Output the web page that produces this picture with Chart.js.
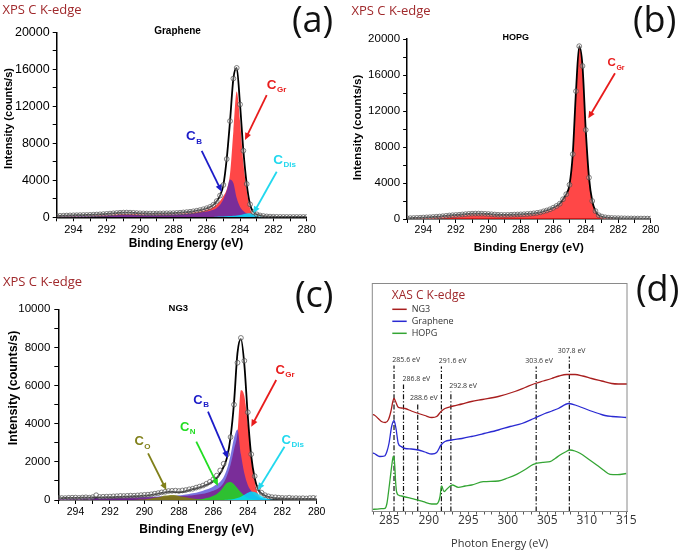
<!DOCTYPE html>
<html>
<head>
<meta charset="utf-8">
<script src="https://cdn.jsdelivr.net/npm/chart.js@4.4.0/dist/chart.umd.min.js"></script>
<style>
  body { margin: 0; background: #fff; }
  #page { position: relative; width: 685px; height: 554px; overflow: hidden; }
  canvas { position: absolute; }
  .edge { position: absolute; font: 13px "Open Sans", sans-serif; line-height: 1; color: #a0292c; white-space: nowrap; }
  .tag { position: absolute; font: 36px "Open Sans", sans-serif; line-height: 1; color: #111; white-space: nowrap; }
</style>
</head>
<body>
<div id="page">
  <canvas id="pa" width="345" height="260" style="left:0;top:0"></canvas>
  <canvas id="pb" width="340" height="260" style="left:345px;top:0"></canvas>
  <canvas id="pc" width="345" height="289" style="left:0;top:265px"></canvas>
  <canvas id="pd" width="340" height="289" style="left:345px;top:265px"></canvas>
  <div class="edge" style="left:2.5px;top:2.5px">XPS C K-edge</div>
  <div class="edge" style="left:351.5px;top:3.5px">XPS C K-edge</div>
  <div class="edge" style="left:3px;top:275px">XPS C K-edge</div>
  <div class="tag" style="left:292px;top:0.5px">(a)</div>
  <div class="tag" style="left:633px;top:1px">(b)</div>
  <div class="tag" style="left:295px;top:276px">(c)</div>
  <div class="tag" style="left:636px;top:270px">(d)</div>
</div>
<script>
// XPS binding energy grid (eV), high to low, shared by the three fits
const xpsE = [
  295.0, 294.8, 294.6, 294.4, 294.2, 294.0, 293.8, 293.6, 293.4, 293.2,
  293.0, 292.8, 292.6, 292.4, 292.2, 292.0, 291.8, 291.6, 291.4, 291.2,
  291.0, 290.8, 290.6, 290.4, 290.2, 290.0, 289.8, 289.6, 289.4, 289.2,
  289.0, 288.8, 288.6, 288.4, 288.2, 288.0, 287.8, 287.6, 287.4, 287.2,
  287.0, 286.8, 286.6, 286.4, 286.2, 286.0, 285.8, 285.6, 285.4, 285.2,
  285.0, 284.8, 284.6, 284.4, 284.2, 284.0, 283.8, 283.6, 283.4, 283.2,
  283.0, 282.8, 282.6, 282.4, 282.2, 282.0, 281.8, 281.6, 281.4, 281.2,
  281.0, 280.8, 280.6, 280.4, 280.2, 280.0
];

// (a) Graphene
const grapheneFit = [
  145, 160, 175, 190, 205, 215, 225, 235, 245, 252,
  262, 280, 300, 320, 345, 370, 400, 430, 460, 490,
  505, 510, 500, 480, 455, 435, 420, 412, 408, 408,
  410, 418, 425, 432, 440, 450, 470, 495, 525, 560,
  600, 650, 710, 780, 870, 980, 1120, 1350, 1750, 2350,
  3500, 6300, 10400, 15000, 16150, 12200, 7200, 3600, 1400, 560,
  320, 200, 135, 95, 72, 58, 48, 42, 40, 38,
  37, 36, 36, 36, 35, 35
];
const grapheneGr = [
  105, 115, 125, 135, 145, 150, 160, 170, 180, 190,
  200, 215, 230, 245, 260, 275, 290, 310, 330, 350,
  365, 370, 365, 355, 345, 338, 334, 332, 333, 336,
  340, 346, 354, 364, 376, 390, 406, 426, 450, 478,
  512, 552, 600, 660, 735, 830, 950, 1120, 1380, 1750,
  2300, 3000, 4700, 9300, 13600, 10400, 5900, 2900, 970, 320,
  130, 50, 15, 0, 0, 0, 0, 0, 0, 0,
  0, 0, 0, 0, 0, 0
];
const grapheneB = [
  95, 100, 105, 110, 115, 120, 125, 130, 135, 140,
  150, 160, 170, 180, 190, 200, 210, 220, 230, 240,
  250, 255, 255, 255, 255, 260, 262, 265, 268, 272,
  276, 282, 290, 300, 310, 322, 336, 352, 370, 390,
  412, 440, 470, 510, 560, 620, 700, 820, 1000, 1350,
  1950, 2900, 4100, 3700, 2100, 1150, 680, 420, 250, 140,
  80, 40, 15, 0, 0, 0, 0, 0, 0, 0,
  0, 0, 0, 0, 0, 0
];
const grapheneDis = [
  0, 0, 0, 0, 0, 0, 0, 0, 0, 0,
  0, 0, 0, 0, 0, 0, 0, 0, 0, 0,
  0, 0, 0, 0, 0, 0, 0, 0, 0, 0,
  0, 0, 0, 0, 0, 0, 0, 0, 0, 0,
  0, 0, 0, 0, 10, 20, 30, 45, 60, 75,
  90, 110, 135, 165, 205, 260, 340, 420, 430, 350,
  250, 160, 95, 55, 30, 15, 5, 0, 0, 0,
  0, 0, 0, 0, 0, 0
];

// (b) HOPG (single C_Gr component = fit)
const hopgFit = [
  80, 95, 110, 125, 140, 160, 180, 200, 225, 250,
  275, 310, 350, 390, 420, 445, 470, 505, 540, 570,
  590, 600, 600, 590, 575, 555, 525, 495, 470, 455,
  450, 455, 470, 490, 500, 515, 535, 560, 590, 630,
  680, 740, 850, 950, 1080, 1250, 1450, 1700, 2200, 2750,
  3800, 7200, 14200, 19200, 17000, 9900, 4600, 2000, 880, 420,
  270, 185, 140, 115, 100, 90, 80, 72, 66, 62,
  58, 55, 52, 50, 48, 46
];

// (c) NG3
const ng3Data = [
  110, 105, 100, 115, 120, 125, 110, 130, 140, 120,
  150, 250, 160, 170, 175, 180, 190, 200, 215, 210,
  220, 230, 225, 240, 255, 270, 280, 300, 330, 360,
  400, 430, 470, 480, 490, 470, 500, 520, 560, 590,
  650, 700, 760, 850, 950, 1080, 1280, 1550, 1900, 2400,
  3300, 5000, 7200, 8500, 7300, 4600, 2400, 1250, 620, 380,
  250, 190, 150, 140, 120, 110, 100, 120, 90, 100,
  85, 95, 80, 100, 110, 90
];
const ng3Fit = [
  100, 102, 105, 108, 110, 113, 116, 120, 124, 127,
  130, 134, 138, 142, 146, 150, 155, 160, 166, 172,
  180, 188, 196, 203, 212, 225, 245, 270, 300, 335,
  370, 405, 432, 430, 418, 412, 430, 468, 520, 570,
  610, 660, 720, 790, 880, 1000, 1160, 1400, 1750, 2250,
  3300, 5100, 7700, 8450, 7100, 4400, 2300, 1150, 560, 340,
  230, 160, 120, 100, 90, 80, 75, 70, 68, 66,
  65, 64, 63, 62, 61, 60
];
const ng3Gr = [
  70, 72, 74, 76, 78, 80, 82, 84, 86, 88,
  90, 92, 95, 98, 100, 103, 106, 110, 113, 116,
  120, 124, 128, 132, 136, 140, 145, 150, 155, 160,
  166, 172, 178, 185, 192, 200, 210, 222, 236, 255,
  275, 300, 330, 370, 420, 480, 560, 680, 900, 1300,
  1850, 2650, 3500, 5750, 5450, 4000, 2350, 1000, 300, 60,
  0, 0, 0, 0, 0, 0, 0, 0, 0, 0,
  0, 0, 0, 0, 0, 0
];
const ng3B = [
  80, 82, 84, 86, 88, 92, 95, 98, 101, 104,
  107, 110, 113, 116, 118, 120, 123, 126, 130, 133,
  136, 140, 144, 148, 152, 156, 162, 168, 175, 183,
  192, 202, 212, 222, 234, 248, 265, 290, 320, 350,
  385, 430, 490, 550, 620, 710, 820, 960, 1200, 1650,
  2350, 3250, 3700, 2400, 1400, 790, 470, 260, 160, 100,
  55, 25, 10, 0, 0, 0, 0, 0, 0, 0,
  0, 0, 0, 0, 0, 0
];
const ng3N = [
  0, 0, 0, 0, 0, 0, 0, 0, 0, 0,
  0, 0, 0, 0, 0, 0, 0, 0, 0, 0,
  0, 0, 0, 0, 0, 0, 0, 0, 0, 0,
  0, 0, 0, 0, 0, 0, 0, 0, 0, 0,
  10, 20, 50, 100, 150, 220, 320, 470, 700, 900,
  950, 830, 620, 400, 220, 110, 50, 20, 5, 0,
  0, 0, 0, 0, 0, 0, 0, 0, 0, 0,
  0, 0, 0, 0, 0, 0
];
const ng3Dis = [
  0, 0, 0, 0, 0, 0, 0, 0, 0, 0,
  0, 0, 0, 0, 0, 0, 0, 0, 0, 0,
  0, 0, 0, 0, 0, 0, 0, 0, 0, 0,
  0, 0, 0, 0, 0, 0, 0, 0, 0, 0,
  0, 0, 0, 0, 0, 0, 0, 0, 5, 10,
  20, 50, 100, 170, 270, 380, 450, 420, 320, 200,
  110, 55, 25, 10, 0, 0, 0, 0, 0, 0,
  0, 0, 0, 0, 0, 0
];
const ng3O = [
  0, 0, 0, 0, 0, 0, 0, 0, 0, 0,
  0, 0, 0, 0, 0, 0, 0, 0, 0, 0,
  0, 0, 5, 10, 20, 30, 50, 80, 115, 150,
  190, 230, 255, 262, 250, 215, 175, 140, 105, 80,
  55, 40, 25, 15, 8, 5, 0, 0, 0, 0,
  0, 0, 0, 0, 0, 0, 0, 0, 0, 0,
  0, 0, 0, 0, 0, 0, 0, 0, 0, 0,
  0, 0, 0, 0, 0, 0
];

// (d) XAS C K-edge, photon energy (eV) and offset intensity (arb. units)
const xasNg3E = [282.9, 283.1, 283.6, 284.0, 284.5, 284.9, 285.2, 285.45, 285.6, 285.8,
  286.1, 286.5, 287.0, 287.8, 288.7, 289.5, 290.4, 291.0, 291.55, 292.05,
  293.1, 294.2, 295.4, 296.8, 298.8, 300.9, 302.2, 303.45, 304.5, 305.56,
  306.5, 307.46, 308.52, 309.5, 310.63, 311.9, 313.16, 314.0, 315.1];
const xasNg3 = [97, 96.5, 93, 90, 89, 92, 100, 110, 113, 110,
  104.5, 103.5, 103, 100.5, 98, 96, 94, 95, 100, 103,
  105.5, 107.5, 110, 112, 115, 120, 124, 128, 130.5, 133,
  135.5, 137, 137, 135.5, 133, 130.5, 128, 127.5, 127.5];
const xasGrapheneE = [282.9, 283.1, 283.8, 284.4, 284.7, 284.96, 285.3, 285.6, 285.85, 286.14,
  286.5, 287.0, 287.8, 288.7, 289.5, 290.4, 291.0, 291.55, 292.05, 292.9,
  294.2, 295.4, 297.0, 298.8, 300.3, 301.8, 303.3, 304.7, 305.6, 306.4,
  307.7, 308.9, 310.2, 311.5, 312.3, 313.2, 315.0];
const xasGraphene = [58.5, 58, 55, 55.5, 60, 68, 85, 91, 83, 68,
  65, 63, 62.5, 61.5, 59.5, 57.5, 59, 66.5, 70, 71.5,
  73, 75, 78, 81.5, 85, 88, 93, 98, 100.5, 103,
  108, 105.5, 101.5, 98, 96, 95, 94];
const xasHopgE = [282.9, 283.5, 284.0, 284.46, 284.7, 284.88, 285.09, 285.25, 285.4, 285.5,
  285.6, 285.7, 285.8, 285.93, 286.2, 286.57, 287.4, 288.25, 289.3, 290.37,
  291.0, 291.25, 291.42, 291.63, 291.93, 292.27, 292.98, 293.74, 294.6, 295.43,
  296.9, 298.81, 300.0, 301.13, 302.2, 303.24, 304.5, 305.35, 306.0, 306.62,
  307.3, 307.88, 308.5, 309.15, 310.2, 311.26, 312.1, 312.95, 313.9, 315.0];
const xasHopg = [2.2, 2.4, 2.8, 3.2, 8, 18, 31.5, 42, 51, 55,
  54, 45, 30, 19.5, 16.3, 15.5, 13.8, 12.2, 9.8, 7.5,
  7.5, 10, 14.8, 25.5, 19.8, 22.2, 26.5, 24.2, 25.5, 26.5,
  29.8, 30.5, 33.5, 37.2, 42, 47.2, 49.2, 49.8, 53, 56.5,
  59.5, 61.5, 60.5, 58.2, 52.5, 46.5, 41.5, 37.2, 36.8, 38];
const xasMarkE = [285.6, 286.8, 288.6, 291.6, 292.8, 303.6, 307.8];
const xasMarkTop = [146, 127, 108, 145, 120, 145, 155];

const SANS = '"Liberation Sans", Arial, sans-serif';
const OPEN = '"Open Sans", sans-serif';
Chart.defaults.font.family = SANS;
Chart.defaults.color = '#000';

const pts = (xs, ys) => xs.map((x, i) => ({ x, y: ys[i] }));

function dots(vals) {
  return { data: pts(xpsE, vals), showLine: false, pointRadius: 2.4, pointBorderWidth: 0.8,
    pointBorderColor: 'rgba(70,70,70,0.85)', pointBackgroundColor: 'rgba(255,255,255,0.3)' };
}
function fitLine(vals) {
  return { data: pts(xpsE, vals), borderColor: '#000', borderWidth: 1.8, pointRadius: 0,
    fill: false, cubicInterpolationMode: 'monotone' };
}
function peak(vals, color) {
  return { data: pts(xpsE, vals), borderWidth: 0, borderColor: color, backgroundColor: color,
    pointRadius: 0, fill: 'origin', cubicInterpolationMode: 'monotone' };
}

// sample name, axis titles and the labelled arrows for the XPS panels
const xpsDeco = {
  id: 'xpsDeco',
  afterDraw(chart, args, o) {
    const { ctx, chartArea: a, scales: { x, y } } = chart;
    const px = p => [x.getPixelForValue(p[0]), y.getPixelForValue(p[1])];
    ctx.save();
    ctx.fillStyle = '#000';
    ctx.textBaseline = 'middle';
    ctx.textAlign = 'center';
    ctx.font = `bold ${o.sample[2]}px ${SANS}`;
    ctx.fillText(o.sample[0], x.getPixelForValue(o.sample[1]), a.top - 1);
    ctx.font = `bold ${o.xTitle[2]}px ${SANS}`;
    ctx.fillText('Binding Energy (eV)', o.xTitle[0], o.xTitle[1]);
    ctx.save();
    ctx.translate(o.yTitle[0], o.yTitle[1]);
    ctx.rotate(-Math.PI / 2);
    ctx.font = `bold ${o.yTitle[2]}px ${SANS}`;
    ctx.fillText('Intensity (counts/s)', 0, 0);
    ctx.restore();

    for (const n of o.notes) {
      const [x0, y0] = px(n.from), [x1, y1] = px(n.to);
      const ang = Math.atan2(y1 - y0, x1 - x0), hl = 7, hw = 3.2;
      const c = Math.cos(ang), s = Math.sin(ang);
      ctx.strokeStyle = ctx.fillStyle = n.color;
      ctx.lineWidth = 1.8;
      ctx.beginPath();
      ctx.moveTo(x0, y0);
      ctx.lineTo(x1 - c * hl * 0.8, y1 - s * hl * 0.8);
      ctx.stroke();
      ctx.beginPath();
      ctx.moveTo(x1, y1);
      ctx.lineTo(x1 - hl * c + hw * s, y1 - hl * s - hw * c);
      ctx.lineTo(x1 - hl * c - hw * s, y1 - hl * s + hw * c);
      ctx.closePath();
      ctx.fill();
      const [lx, ly] = px(n.at);
      ctx.textAlign = 'center';
      ctx.font = `bold ${o.cSize}px ${SANS}`;
      ctx.fillText('C', lx, ly);
      const cw = ctx.measureText('C').width;
      ctx.textAlign = 'left';
      ctx.font = `bold ${Math.round(o.cSize * 0.6)}px ${SANS}`;
      ctx.fillText(n.sub, lx + cw / 2 + 0.5, ly + o.cSize * 0.38);
    }
    ctx.restore();
  }
};

function xpsChart(id, c) {
  const axisGrid = { drawOnChartArea: false, tickLength: 4, tickColor: '#000', tickWidth: 1 };
  return new Chart(document.getElementById(id), {
    type: 'line',
    data: { datasets: c.datasets },
    options: {
      responsive: false,
      animation: false,
      events: [],
      layout: { padding: c.pad },
      plugins: { legend: { display: false }, tooltip: { enabled: false }, xpsDeco: c.deco },
      scales: {
        x: {
          type: 'linear', reverse: true, min: 280, max: 295,
          afterFit: s => { s.height = c.xH; },
          grid: axisGrid,
          border: { color: '#000', width: 1.5 },
          ticks: { stepSize: 1, autoSkip: false, maxRotation: 0, padding: c.xPad,
            font: { size: c.xFont }, color: '#000',
            callback: v => (v % 2 === 0 ? v : '') }
        },
        y: {
          min: 0, max: c.yMax,
          afterFit: s => { s.width = c.yW; },
          grid: axisGrid,
          border: { color: '#000', width: 1.5 },
          ticks: { stepSize: c.yStep, autoSkip: false, padding: c.yPad,
            font: { size: c.yFont }, color: '#000',
            callback: v => (v % c.yLabelStep === 0 ? v : '') }
        }
      }
    },
    plugins: [xpsDeco]
  });
}

const RED = 'rgba(255,30,30,0.82)';
const BLUE = 'rgba(40,30,205,0.62)';
const CYAN = 'rgba(0,222,255,0.85)';
const GREEN = 'rgba(40,205,40,0.92)';
const OLIVE = 'rgba(128,128,10,0.85)';

xpsChart('pa', {
  datasets: [dots(grapheneFit), fitLine(grapheneFit), peak(grapheneDis, CYAN),
    peak(grapheneB, BLUE), peak(grapheneGr, RED)],
  pad: { left: 0, right: 38.3, top: 32.3, bottom: 0 },
  xH: 42.7, yW: 56.7, yMax: 20000, yStep: 2000, yLabelStep: 4000,
  xFont: 11, yFont: 12.5, xPad: 2, yPad: 3,
  deco: {
    sample: ['Graphene', 287.75, 10],
    xTitle: [186, 244, 12], yTitle: [9, 118.5, 11],
    cSize: 13.5,
    notes: [
      { sub: 'Gr', color: '#e81c1c', at: [282.1, 14300], from: [282.4, 13210], to: [283.7, 8360] },
      { sub: 'B', color: '#1c1cc8', at: [286.95, 8760], from: [286.3, 7170], to: [285.1, 2770] },
      { sub: 'Dis', color: '#22d8ee', at: [281.72, 6190], from: [281.8, 4930], to: [283.2, 430] }
    ]
  }
});

xpsChart('pb', {
  datasets: [dots(hopgFit), fitLine(hopgFit), peak(hopgFit, RED)],
  pad: { left: 0, right: 34.3, top: 39, bottom: 0 },
  xH: 41, yW: 62.1, yMax: 20000, yStep: 2000, yLabelStep: 4000,
  xFont: 10.5, yFont: 11.5, xPad: 1, yPad: 3,
  deco: {
    sample: ['HOPG', 288.31, 9],
    xTitle: [183.8, 248.3, 11.5], yTitle: [13.3, 127.5, 11.5],
    cSize: 11.5,
    notes: [
      { sub: 'Gr', color: '#e81c1c', at: [282.4, 17300], from: [282.2, 16190], to: [283.84, 11190] }
    ]
  }
});

xpsChart('pc', {
  datasets: [dots(ng3Data), fitLine(ng3Fit), peak(ng3Dis, CYAN), peak(ng3N, GREEN),
    peak(ng3O, OLIVE), peak(ng3B, BLUE), peak(ng3Gr, RED)],
  pad: { left: 0, right: 28.3, top: 44.3, bottom: 0 },
  xH: 54, yW: 58.3, yMax: 10000, yStep: 1000, yLabelStep: 2000,
  xFont: 10.5, yFont: 11.5, xPad: 2, yPad: 4,
  deco: {
    sample: ['NG3', 288.03, 9.5],
    xTitle: [196.7, 265, 12], yTitle: [14, 123, 12.5],
    cSize: 13,
    notes: [
      { sub: 'Gr', color: '#e81c1c', at: [282.12, 6817], from: [282.35, 6290], to: [283.8, 3845] },
      { sub: 'B', color: '#1c1cc8', at: [286.89, 5244], from: [286.31, 4632], to: [285.15, 2187] },
      { sub: 'N', color: '#22dd22', at: [287.67, 3810], from: [286.99, 3057], to: [285.73, 734] },
      { sub: 'O', color: '#80801a', at: [290.31, 3057], from: [289.79, 2449], to: [288.73, 524] },
      { sub: 'Dis', color: '#22d8ee', at: [281.77, 3146], from: [281.87, 2795], to: [283.41, 524] }
    ]
  }
});

// XAS panel: frame, dash-dot markers, legend
const markDx = [-1.7, -1, -7.7, -2.7, -1.7, -11, -11.6];
const xasLegend = [['NG3', '#a81e1e'], ['Graphene', '#2a2ad2'], ['HOPG', '#34a534']];
const xasDeco = {
  id: 'xasDeco',
  beforeDatasetsDraw(chart) {
    const { ctx, chartArea: a, scales: { x, y } } = chart;
    ctx.save();
    ctx.strokeStyle = '#111';
    ctx.lineWidth = 1.2;
    ctx.setLineDash([5, 2, 1.2, 2]);
    ctx.font = `7px ${OPEN}`;
    ctx.fillStyle = '#333';
    ctx.textBaseline = 'middle';
    ctx.textAlign = 'left';
    xasMarkE.forEach((e, i) => {
      const mx = x.getPixelForValue(e), top = y.getPixelForValue(xasMarkTop[i]);
      ctx.beginPath();
      ctx.moveTo(mx, a.bottom);
      ctx.lineTo(mx, top);
      ctx.stroke();
      ctx.fillText(e.toFixed(1) + ' eV', mx + markDx[i], top - 6);
    });
    ctx.restore();
  },
  afterDraw(chart) {
    const { ctx, chartArea: a } = chart;
    ctx.save();
    ctx.strokeStyle = '#8a8a8a';
    ctx.lineWidth = 1;
    ctx.strokeRect(a.left, a.top, a.right - a.left, a.bottom - a.top);
    ctx.textBaseline = 'middle';
    ctx.textAlign = 'left';
    ctx.fillStyle = '#a0292c';
    ctx.font = `12px ${OPEN}`;
    ctx.fillText('XAS C K-edge', 46.7, 30.3);
    ctx.font = `9px ${OPEN}`;
    xasLegend.forEach(([name, col], i) => {
      const ly = 44.3 + i * 12;
      ctx.strokeStyle = col;
      ctx.lineWidth = 1.5;
      ctx.beginPath();
      ctx.moveTo(47.3, ly);
      ctx.lineTo(61.7, ly);
      ctx.stroke();
      ctx.fillStyle = '#333';
      ctx.fillText(name, 66.7, ly);
    });
    ctx.textAlign = 'center';
    ctx.fillStyle = '#333';
    ctx.font = `11px ${OPEN}`;
    ctx.fillText('Photon Energy (eV)', 154.7, 279);
    ctx.restore();
  }
};

function xasLine(xs, ys, color) {
  return { data: pts(xs, ys), borderColor: color, borderWidth: 1.3, pointRadius: 0,
    fill: false, cubicInterpolationMode: 'monotone' };
}

new Chart(document.getElementById('pd'), {
  type: 'line',
  data: {
    datasets: [
      xasLine(xasNg3E, xasNg3, xasLegend[0][1]),
      xasLine(xasGrapheneE, xasGraphene, xasLegend[1][1]),
      xasLine(xasHopgE, xasHopg, xasLegend[2][1])
    ]
  },
  options: {
    responsive: false,
    animation: false,
    events: [],
    layout: { padding: { left: 27.3, right: 58, top: 18.5, bottom: 0 } },
    plugins: { legend: { display: false }, tooltip: { enabled: false } },
    scales: {
      x: {
        type: 'linear', min: 282.85, max: 315.1,
        afterFit: s => { s.height = 42.5; },
        grid: { drawOnChartArea: false, tickLength: 3, tickColor: '#555' },
        border: { color: '#777', width: 1 },
        ticks: { stepSize: 1, includeBounds: false, autoSkip: false, maxRotation: 0, padding: 0,
          font: { family: OPEN, size: 12, lineHeight: 1 }, color: '#333',
          callback: v => (v % 5 === 0 ? v : '') }
      },
      y: { display: false, min: 0, max: 228 }
    }
  },
  plugins: [xasDeco]
});
</script>
</body>
</html>
